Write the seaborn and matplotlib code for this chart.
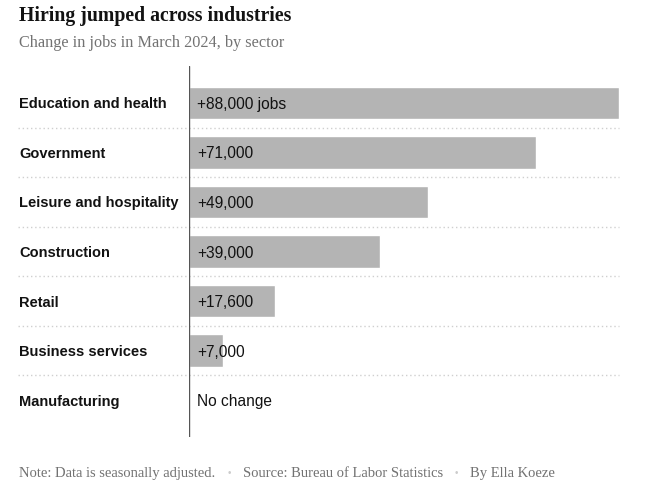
import matplotlib
matplotlib.use("Agg")
import matplotlib.pyplot as plt
import matplotlib.transforms as mtransforms
import seaborn as sns
import pandas as pd

sectors = ["Education and health", "Government", "Leisure and hospitality",
           "Construction", "Retail", "Business services", "Manufacturing"]
jobs = [88000, 71000, 49000, 39000, 17600, 7000, 0]
value_labels = ["+88,000 jobs", "+71,000", "+49,000", "+39,000", "+17,600", "+7,000", "No change"]

title = "Hiring jumped across industries"
subtitle = "Change in jobs in March 2024, by sector"
note = "Note: Data is seasonally adjusted."
source = "Source: Bureau of Labor Statistics"
byline = "By Ella Koeze"

df = pd.DataFrame({"sector": sectors, "jobs": jobs})

sns.set_theme(style="white")
plt.rcParams["font.family"] = ["Liberation Sans", "DejaVu Sans"]

W, H = 657, 488
fig = plt.figure(figsize=(W / 100, H / 100), dpi=100)
ax = fig.add_axes([189 / W, 1 - 437 / H, (619 - 189) / W, (437 - 66) / H])

sns.barplot(data=df, x="jobs", y="sector", order=sectors, color="#b4b4b4",
            saturation=1, width=0.65, ax=ax, orient="h")

ax.set_xlim(0, 88000)
ax.set_ylim(len(sectors) - 1 + 0.745, -0.745)
for s in ax.spines.values():
    s.set_visible(False)
ax.set_xticks([])
ax.set_yticks([])
ax.set_xlabel("")
ax.set_ylabel("")
ax.axvline(0, color="#555555", lw=1.0, zorder=5)

# separators
ytr = ax.get_yaxis_transform()
x0 = (18 - 189) / (619 - 189)
for i in range(len(sectors) - 1):
    ax.plot([x0, 1.0], [i + 0.5, i + 0.5], transform=ytr, clip_on=False,
            color="#cfcfcf", lw=1.0, ls=(0, (1, 2)), zorder=1)

# labels
lab_tr = mtransforms.blended_transform_factory(fig.transFigure, ax.transData)
off = 8 / 430 * 88000
for i, (s, v, lbl) in enumerate(zip(sectors, jobs, value_labels)):
    ax.text(19 / W, i, s, transform=lab_tr, ha="left", va="center_baseline",
            fontsize=10.5, fontweight="bold", color="#121212")
    ax.text(off, i, lbl, ha="left", va="center_baseline", fontsize=11.2,
            color="#121212", zorder=6)

serif = ["Liberation Serif", "DejaVu Serif"]
fig.text(19 / W, 1 - 21 / H, title, ha="left", va="baseline", fontsize=14.2,
         fontweight="bold", family=serif, color="#121212")
fig.text(19 / W, 1 - 47 / H, subtitle, ha="left", va="baseline", fontsize=11.7,
         family=serif, color="#727272")

# footer
fy = 1 - 477 / H
fs = 10.5
t1 = fig.text(19 / W, fy, note, ha="left", va="baseline", fontsize=fs, family=serif, color="#727272")
fig.canvas.draw()
r = fig.canvas.get_renderer()
bb = t1.get_window_extent(r)
xpos = bb.x1 + 12
b1 = fig.text(xpos / W, fy + 1 / H, "•", ha="left", va="baseline", fontsize=7, color="#cccccc")
xpos = b1.get_window_extent(r).x1 + 12
t2 = fig.text(xpos / W, fy, source, ha="left", va="baseline", fontsize=fs, family=serif, color="#727272")
xpos = t2.get_window_extent(r).x1 + 12
b2 = fig.text(xpos / W, fy + 1 / H, "•", ha="left", va="baseline", fontsize=7, color="#cccccc")
xpos = b2.get_window_extent(r).x1 + 12
fig.text(xpos / W, fy, byline, ha="left", va="baseline", fontsize=fs, family=serif, color="#727272")

fig.savefig("out.png", dpi=100, facecolor="white")
